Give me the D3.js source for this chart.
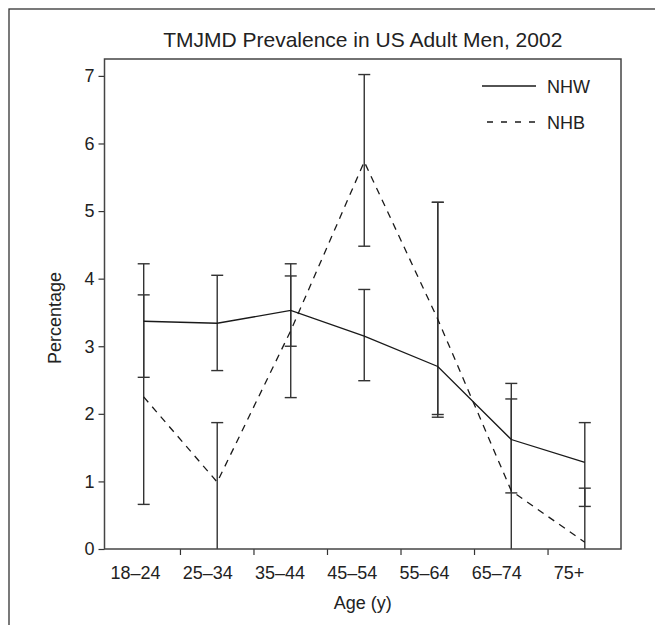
<!DOCTYPE html>
<html>
<head>
<meta charset="utf-8">
<script src="https://cdn.jsdelivr.net/npm/d3@7"></script>
<style>
  body { margin: 0; background: #fff; }
  text { font-family: "Liberation Sans", Arial, sans-serif; fill: #222; }
</style>
</head>
<body>
<div id="chart"></div>
<script>
// categories and values
const ages = ["18–24", "25–34", "35–44", "45–54", "55–64", "65–74", "75+"];
const nhw = [3.37, 3.34, 3.53, 3.15, 2.70, 1.62, 1.28];
const nhwLow = [2.54, 2.64, 3.00, 2.49, 1.99, 0.83, 0.63];
const nhwHigh = [4.22, 4.05, 4.04, 3.84, 5.13, 2.45, 1.87];
const nhb = [2.25, 0.99, 3.23, 5.73, 3.40, 0.86, 0.10];
const nhbLow = [0.66, 0, 2.24, 4.48, 1.95, 0, 0];
const nhbHigh = [3.76, 1.87, 4.22, 7.02, 5.13, 2.22, 0.90];
const yTicks = [0, 1, 2, 3, 4, 5, 6, 7];

const W = 655, H = 625;
const frame = {left: 104.5, right: 621, top: 59, bottom: 549};

const svg = d3.select("#chart").append("svg")
    .attr("width", W)
    .attr("height", H);

svg.append("rect").attr("width", W).attr("height", H).attr("fill", "#fff");

// cadre extérieur (coupé à droite et en bas)
svg.append("rect")
    .attr("x", 9).attr("y", 9)
    .attr("width", 800).attr("height", 800)
    .attr("fill", "none").attr("stroke", "#333").attr("stroke-width", 1.3);

const x = d3.scalePoint().domain(ages).range([143.7, 584.8]);
const xLabel = d3.scalePoint().domain(ages).range([135.5, 569]);
const y = d3.scaleLinear().domain([0, 7.25]).range([frame.bottom, frame.top]);

// title
svg.append("text")
    .attr("x", (frame.left + frame.right) / 2)
    .attr("y", 47)
    .attr("text-anchor", "middle")
    .style("font-size", "21px")
    .text("TMJMD Prevalence in US Adult Men, 2002");

// y axis
const yAxis = svg.append("g")
    .attr("transform", `translate(${frame.left},0)`)
    .call(d3.axisLeft(y).tickValues(yTicks).tickSize(6).tickPadding(4).tickFormat(d3.format("d")));
yAxis.select(".domain").remove();
yAxis.selectAll("line").attr("stroke", "#333").attr("stroke-width", 1.2);
yAxis.selectAll("text").style("font-size", "18px").attr("fill", "#222")
    .style("font-family", "'Liberation Sans', Arial, sans-serif");

// x ticks between categories
const mids = d3.pairs(ages).map(([a, b]) => (x(a) + x(b)) / 2);
svg.append("g").selectAll("line")
    .data(mids)
    .enter().append("line")
    .attr("x1", d => d).attr("x2", d => d)
    .attr("y1", frame.bottom).attr("y2", frame.bottom + 6)
    .attr("stroke", "#333").attr("stroke-width", 1.2);

svg.append("g").selectAll("text")
    .data(ages)
    .enter().append("text")
    .attr("x", d => xLabel(d))
    .attr("y", 579)
    .attr("text-anchor", "middle")
    .style("font-size", "18px")
    .text(d => d);

// axis titles
svg.append("text")
    .attr("x", (frame.left + frame.right) / 2)
    .attr("y", 609)
    .attr("text-anchor", "middle")
    .style("font-size", "18px")
    .text("Age (y)");

svg.append("text")
    .attr("transform", "translate(61,318) rotate(-90)")
    .attr("text-anchor", "middle")
    .style("font-size", "18px")
    .text("Percentage");

// error bars
function errorBars(low, high) {
    const g = svg.append("g").attr("stroke", "#333").attr("stroke-width", 1.4);
    ages.forEach((a, i) => {
        g.append("line")
            .attr("x1", x(a)).attr("x2", x(a))
            .attr("y1", y(low[i])).attr("y2", y(high[i]));
        [low[i], high[i]].forEach(v => {
            if (v <= 0) return;
            g.append("line")
                .attr("x1", x(a) - 6).attr("x2", x(a) + 6)
                .attr("y1", y(v)).attr("y2", y(v));
        });
    });
}
errorBars(nhwLow, nhwHigh);
errorBars(nhbLow, nhbHigh);

const line = d3.line().x((d, i) => x(ages[i])).y(d => y(d));

svg.append("path")
    .datum(nhw)
    .attr("d", line)
    .attr("fill", "none")
    .attr("stroke", "#1a1a1a")
    .attr("stroke-width", 1.3);

svg.append("path")
    .datum(nhb)
    .attr("d", line)
    .attr("fill", "none")
    .attr("stroke", "#1a1a1a")
    .attr("stroke-width", 1.3)
    .attr("stroke-dasharray", "7,6");

// frame
svg.append("rect")
    .attr("x", frame.left).attr("y", frame.top)
    .attr("width", frame.right - frame.left).attr("height", frame.bottom - frame.top)
    .attr("fill", "none").attr("stroke", "#444").attr("stroke-width", 1.5);

// legend
const legend = [
    {name: "NHW", y: 86, dash: null, x1: 482},
    {name: "NHB", y: 122, dash: "6,8", x1: 487}
];
legend.forEach(l => {
    svg.append("line")
        .attr("x1", l.x1).attr("x2", 536)
        .attr("y1", l.y).attr("y2", l.y)
        .attr("stroke", "#1a1a1a").attr("stroke-width", 1.3)
        .attr("stroke-dasharray", l.dash);
    svg.append("text")
        .attr("x", 547).attr("y", l.y + 6.5)
        .style("font-size", "18px")
        .text(l.name);
});
</script>
</body>
</html>
